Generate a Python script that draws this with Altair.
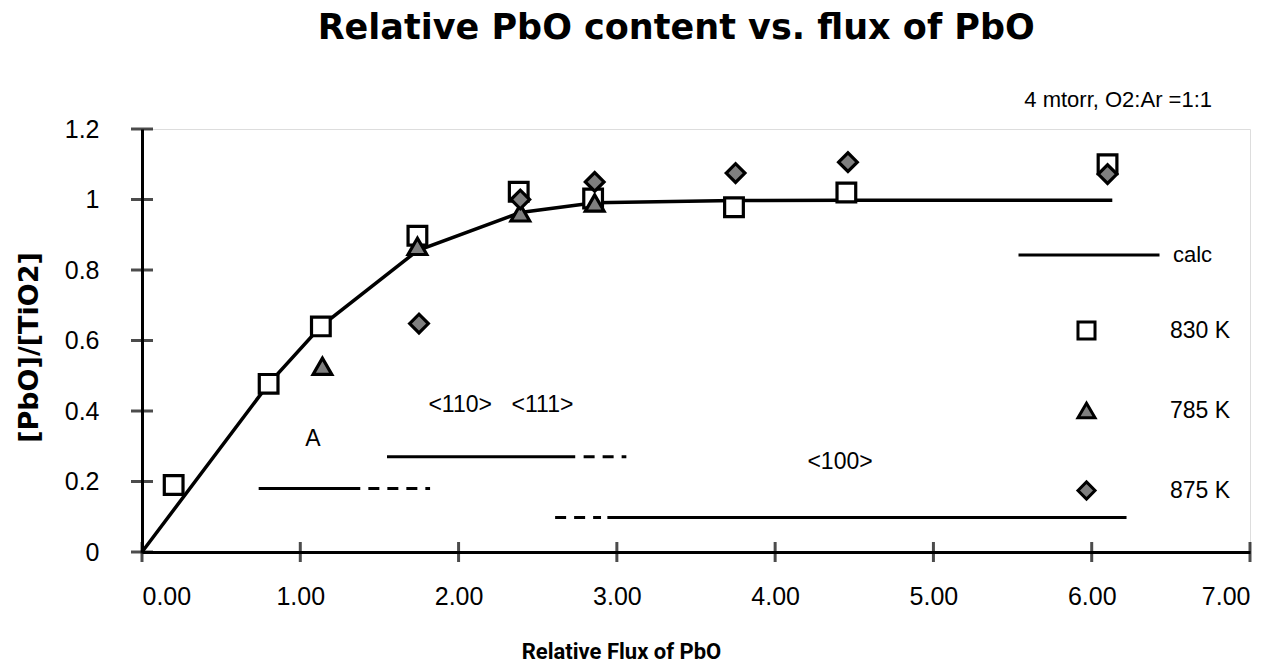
import altair as alt
import pandas as pd

# ---------------- text ----------------
title_text = "Relative PbO content vs. flux of PbO"
x_title = "Relative Flux of PbO"
y_title = "[PbO]/[TiO2]"
condition_note = "4 mtorr, O2:Ar =1:1"

# ---------------- data ----------------
calc_name = "calc"
calc_x = [0.0, 0.80, 1.13, 1.74, 2.39, 2.86, 3.74, 4.45, 6.13]
calc_y = [0.0, 0.477, 0.64, 0.855, 0.963, 0.991, 0.997, 0.998, 0.998]

series_names = ["830 K", "785 K", "875 K"]
k830_x = [0.20, 0.80, 1.13, 1.74, 2.38, 2.85, 3.74, 4.45, 6.10]
k830_y = [0.19, 0.477, 0.64, 0.897, 1.022, 1.003, 0.978, 1.02, 1.10]
k785_x = [1.14, 1.74, 2.39, 2.86]
k785_y = [0.527, 0.867, 0.962, 0.99]
k875_x = [1.75, 2.39, 2.86, 3.75, 4.46, 6.10]
k875_y = [0.648, 1.0, 1.05, 1.075, 1.106, 1.072]

x_ticks = [0, 1, 2, 3, 4, 5, 6, 7]
y_ticks = [0, 0.2, 0.4, 0.6, 0.8, 1.0, 1.2]

# orientation-region annotations (data coordinates)
region_labels = ["A", "<110>", "<111>", "<100>"]
region_label_x = [1.08, 2.01, 2.53, 4.41]
region_label_y = [0.32, 0.418, 0.418, 0.256]
seg_x1 = [0.737, 1.43, 1.548, 2.79, 2.61, 2.94]
seg_x2 = [1.379, 1.82, 2.737, 3.06, 2.90, 6.22]
seg_y = [0.18, 0.18, 0.27, 0.27, 0.098, 0.098]
seg_style = ["solid", "dashed", "solid", "dashed", "dashed", "solid"]
note_x = 6.76
note_y = 1.282
title_x = 3.375
title_y = 1.455

# ---------------- tables ----------------
calc_df = pd.DataFrame({"x": calc_x, "y": calc_y, "name": calc_name})
pts_df = pd.concat([
    pd.DataFrame({"x": k830_x, "y": k830_y, "series": series_names[0]}),
    pd.DataFrame({"x": k785_x, "y": k785_y, "series": series_names[1]}),
    pd.DataFrame({"x": k875_x, "y": k875_y, "series": series_names[2]}),
], ignore_index=True)
seg_df = pd.DataFrame({"x1": seg_x1, "x2": seg_x2, "y": seg_y, "style": seg_style})
lab_df = pd.DataFrame({"x": region_label_x, "y": region_label_y, "label": region_labels})
xt_df = pd.DataFrame({"v": x_ticks})
yt_df = pd.DataFrame({"v": y_ticks})
note_df = pd.DataFrame({"t": [condition_note]})
title_df = pd.DataFrame({"t": [title_text]})

REG = "Liberation Sans"

xs = alt.Scale(domain=[0, 7], nice=False, zero=False)
ys = alt.Scale(domain=[0, 1.2], nice=False, zero=False)

x_axis = alt.Axis(values=x_ticks, format=".2f", labelFont=REG, labelFontSize=25,
                  labelColor="black", labelPadding=32, ticks=False, tickSize=0,
                  domainColor="black", domainWidth=3, grid=False,
                  titleFont="Roboto", titleFontWeight="bold", titleFontSize=22,
                  titleColor="black", titleX=479, titleY=106, titleAlign="center",
                  titleBaseline="alphabetic")
y_axis = alt.Axis(values=y_ticks, format="~g", labelFont=REG, labelFontSize=25,
                  labelColor="black", labelPadding=43, ticks=False, tickSize=0,
                  domainColor="black", domainWidth=3, grid=False,
                  titleFont="DejaVu Sans", titleFontWeight="bold", titleFontSize=27,
                  titleColor="black", titleAngle=270, titleX=-113, titleY=218,
                  titleAlign="center", titleBaseline="middle")


def X(field=None, datum=None):
    if datum is not None:
        return alt.X(datum=datum, type="quantitative", scale=xs, axis=x_axis, title=x_title)
    return alt.X(field, type="quantitative", scale=xs, axis=x_axis, title=x_title)


def Y(field=None, datum=None):
    if datum is not None:
        return alt.Y(datum=datum, type="quantitative", scale=ys, axis=y_axis, title=y_title)
    return alt.Y(field, type="quantitative", scale=ys, axis=y_axis, title=y_title)


calc_line = alt.Chart(calc_df).mark_line(strokeWidth=3.5).encode(
    x=X("x"), y=Y("y"),
    color=alt.Color("name:N", scale=alt.Scale(domain=[calc_name], range=["black"]),
                    legend=alt.Legend(orient="none", legendX=875, legendY=54, title=None,
                                      symbolType="stroke", symbolSize=141 * 141,
                                      symbolStrokeWidth=3, labelFont=REG,
                                      labelFontSize=22, labelColor="black",
                                      labelOffset=12, padding=0)),
)

segments = alt.Chart(seg_df).mark_rule(strokeWidth=3, color="black").encode(
    x=X("x1"), x2="x2", y=Y("y"),
    strokeDash=alt.StrokeDash("style:N", scale=alt.Scale(domain=["solid", "dashed"],
                                                          range=[[1, 0], [11, 8]]), legend=None),
)

shape_legend = alt.Legend(orient="none", legendX=933, legendY=190, title=None,
                          direction="vertical", rowPadding=51, labelOffset=72,
                          labelFont=REG, labelFontSize=23, labelColor="black",
                          symbolSize=290, symbolStrokeWidth=3, symbolOpacity=1,
                          padding=0)

points = alt.Chart(pts_df).mark_point(filled=True, strokeWidth=3.2,
                                      size=350, opacity=1).encode(
    x=X("x"), y=Y("y"),
    shape=alt.Shape("series:N", scale=alt.Scale(domain=series_names,
                                                range=["square", "triangle-up", "diamond"]),
                    legend=shape_legend),
    fill=alt.Fill("series:N", scale=alt.Scale(domain=series_names,
                                              range=["white", "#7f7f7f", "#7f7f7f"]),
                  legend=shape_legend),
    stroke=alt.Stroke("series:N", scale=alt.Scale(domain=series_names,
                                                  range=["black", "black", "black"]),
                      legend=shape_legend),
    order=alt.Order("idx:Q"),
).transform_window(idx="row_number()")

labels = alt.Chart(lab_df).mark_text(font=REG, fontSize=23, color="black",
                                     align="center", baseline="middle").encode(
    x=X("x"), y=Y("y"), text="label:N")

x_tickmarks = alt.Chart(xt_df).mark_tick(orient="vertical", size=20, thickness=3,
                                          color="black").encode(x=X("v"), y=Y(datum=0))
y_tickmarks = alt.Chart(yt_df).mark_tick(orient="horizontal", size=22, thickness=3,
                                          color="black").encode(x=X(datum=0), y=Y("v"))

note = alt.Chart(note_df).mark_text(font=REG, fontSize=22, color="black", align="right",
                                    baseline="middle", clip=False).encode(
    x=X(datum=note_x), y=Y(datum=note_y), text="t:N")

title_mark = alt.Chart(title_df).mark_text(font="DejaVu Sans", fontSize=35, fontWeight="bold",
                                           color="black", align="center",
                                           baseline="alphabetic", clip=False).encode(
    x=X(datum=title_x), y=Y(datum=title_y), text="t:N")

chart = alt.layer(
    x_tickmarks, y_tickmarks, segments, calc_line, points, labels, note, title_mark
).properties(
    width=1108, height=423,
    autosize=alt.AutoSizeParams(type="none"),
    padding={"left": 134, "top": 121, "right": 10, "bottom": 111},
).configure_view(stroke=None).configure(background="white")

chart.save("out.html", embed_options={"renderer": "svg", "actions": False})
